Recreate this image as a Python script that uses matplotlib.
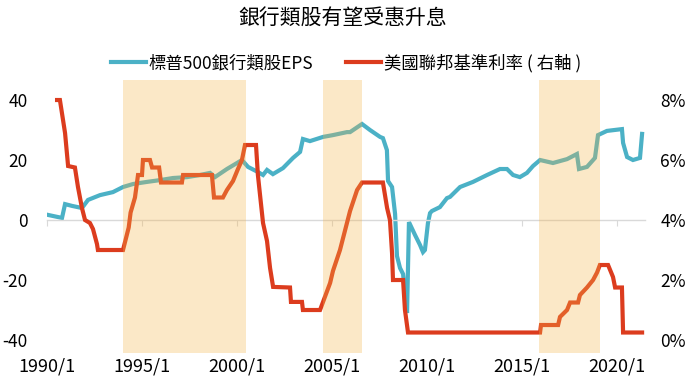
import matplotlib
matplotlib.use("Agg")
import matplotlib.pyplot as plt

plt.rcParams["font.family"] = ["Noto Sans CJK TC", "DejaVu Sans"]

# 標普500銀行類股EPS（左軸）
eps_year = [1990.05, 1990.79, 1990.95, 1991.32, 1991.84, 1992.16, 1992.79, 1993.47, 1994.0, 1994.53,
            1995.26, 1995.95, 1996.63, 1997.37, 1998.05, 1998.58, 1998.84, 1999.47, 2000.0, 2000.26,
            2000.58, 2001.1, 2001.37, 2001.58, 2001.89, 2002.42, 2002.95, 2003.32, 2003.47, 2003.84,
            2004.53, 2005.05, 2005.79, 2005.95, 2006.58, 2007.0, 2007.53, 2007.68, 2007.89, 2007.95,
            2008.16, 2008.32, 2008.42, 2008.58, 2008.74, 2008.84, 2008.95, 2009.05, 2009.37, 2009.63,
            2009.79, 2009.89, 2010.05, 2010.16, 2010.26, 2010.68, 2011.05, 2011.21, 2011.74, 2012.42,
            2013.16, 2013.84, 2014.21, 2014.53, 2014.89, 2015.26, 2015.58, 2015.95, 2016.63, 2017.37,
            2017.89, 2018.0, 2018.42, 2018.84, 2019.0, 2019.47, 2020.26, 2020.32, 2020.53, 2020.84,
            2021.21, 2021.32]
eps_value = [1.7, 0.7, 5.3, 4.7, 4.0, 6.7, 8.3, 9.3, 11.0, 12.0,
             12.7, 13.3, 14.0, 14.3, 15.0, 15.7, 14.3, 17.0, 19.0, 20.0,
             17.7, 16.0, 15.0, 16.7, 15.3, 17.3, 20.7, 22.7, 27.0, 26.3,
             27.7, 28.3, 29.3, 29.3, 32.0, 30.0, 27.7, 27.3, 23.3, 13.0,
             11.0, 2.0, -12.0, -16.0, -18.0, -24.0, -31.0, -0.7, -5.0, -8.3,
             -10.7, -10.0, -1.0, 2.3, 3.0, 4.3, 7.3, 7.7, 11.0, 12.7,
             15.0, 17.0, 17.0, 15.0, 14.3, 15.7, 18.0, 20.0, 19.0, 20.3,
             22.0, 17.0, 17.7, 20.7, 28.3, 29.7, 30.3, 25.7, 21.0, 20.0,
             20.7, 28.7]

# 美國聯邦基準利率（右軸，%）
rate_year = [1990.53, 1990.68, 1990.95, 1991.11, 1991.47, 1991.63, 1991.84, 1992.0, 1992.26, 1992.42,
             1992.63, 1992.68, 1994.0, 1994.1, 1994.2, 1994.3, 1994.4, 1994.63, 1994.79, 1995.0,
             1995.05, 1995.42, 1995.53, 1995.9, 1996.0, 1997.1, 1997.16, 1998.68, 1998.79, 1999.26,
             1999.47, 1999.79, 2000.05, 2000.26, 2000.42, 2001.0, 2001.1, 2001.37, 2001.58, 2001.74,
             2001.9, 2002.79, 2002.84, 2003.42, 2003.47, 2004.37, 2004.9, 2005.05, 2005.42, 2005.95,
             2006.32, 2006.58, 2007.68, 2007.9, 2008.05, 2008.16, 2008.21, 2008.74, 2008.84, 2009.0,
             2015.95, 2016.0, 2016.9, 2017.0, 2017.37, 2017.53, 2017.95, 2018.05, 2018.42, 2018.74,
             2018.95, 2019.1, 2019.53, 2019.79, 2019.9, 2020.26, 2020.32, 2021.32]
rate_value = [8.0, 8.0, 6.9, 5.8, 5.75, 5.1, 4.4, 4.0, 3.9, 3.7,
              3.2, 3.0, 3.0, 3.25, 3.5, 3.75, 4.25, 4.75, 5.5, 5.5,
              6.0, 6.0, 5.75, 5.75, 5.25, 5.25, 5.5, 5.5, 4.75, 4.75,
              5.0, 5.3, 5.7, 6.0, 6.5, 6.5, 5.5, 3.9, 3.3, 2.4,
              1.77, 1.75, 1.27, 1.27, 1.0, 1.0, 1.9, 2.3, 3.0, 4.3,
              5.0, 5.25, 5.25, 4.4, 4.0, 2.9, 2.0, 2.0, 1.0, 0.25,
              0.25, 0.5, 0.5, 0.77, 1.0, 1.25, 1.25, 1.5, 1.75, 2.0,
              2.25, 2.5, 2.5, 2.1, 1.75, 1.75, 0.25, 0.25]

# 升息期間（陰影）
hike_start = [1994.0, 2004.5, 2015.9]
hike_end = [2000.47, 2006.6, 2019.1]

x_ticks = [1990, 1995, 2000, 2005, 2010, 2015, 2020]
x_tick_labels = ["1990/1", "1995/1", "2000/1", "2005/1", "2010/1", "2015/1", "2020/1"]
left_ticks = [40, 20, 0, -20, -40]
left_tick_labels = ["40", "20", "0", "-20", "-40"]
right_ticks = [8, 6, 4, 2, 0]
right_tick_labels = ["8%", "6%", "4%", "2%", "0%"]

teal = "#4BB1C6"
red = "#DC3C1E"

fig = plt.figure(figsize=(6.88, 3.86), dpi=100)
ax = fig.add_axes([47 / 688, 33 / 386, 598 / 688, 273 / 386])
ax2 = ax.twinx()

ax.plot(eps_year, eps_value, color=teal, lw=3, solid_joinstyle="miter", zorder=2)
ax2.plot(rate_year, rate_value, color=red, lw=3, solid_joinstyle="miter", zorder=2)

# 陰影畫在最上層，讓線條顏色略為混色
for s, e in zip(hike_start, hike_end):
    ax2.axvspan(s, e, color="#F5B446", alpha=0.3, lw=0, zorder=3)

ax.set_xlim(1990, 1990 + 598 / 19)
ax.set_ylim(-44.33, 46.67)
ax2.set_ylim(-0.433, 8.667)

for a in (ax, ax2):
    for sp in ["top", "left", "right"]:
        a.spines[sp].set_visible(False)
ax2.spines["bottom"].set_visible(False)

# 0 的橫線與刻度
ax.spines["bottom"].set_position(("data", 0))
ax.spines["bottom"].set_color("#D9D9D9")
ax.spines["bottom"].set_linewidth(1)
ax.set_xticks(x_ticks)
ax.tick_params(axis="x", length=4, color="#D9D9D9", labelbottom=False)

sec = ax.secondary_xaxis("bottom")
sec.set_xticks(x_ticks)
sec.set_xticklabels(x_tick_labels)
sec.spines["bottom"].set_visible(False)
sec.tick_params(axis="x", length=0, pad=3, labelsize=13)

ax.set_yticks(left_ticks)
ax.set_yticklabels(left_tick_labels)
ax.tick_params(axis="y", length=0, pad=14, labelsize=12.5)
ax2.set_yticks(right_ticks)
ax2.set_yticklabels(right_tick_labels)
ax2.tick_params(axis="y", length=0, pad=11, labelsize=12.5)

fig.text(343 / 688, 1 - 18 / 386, "銀行類股有望受惠升息", ha="center", va="center", fontsize=15)

h1, = ax.plot([], [], color=teal, lw=3)
h2, = ax.plot([], [], color=red, lw=3)
fig.legend([h1, h2], ["標普500銀行類股EPS", "美國聯邦基準利率 ( 右軸 )"],
           loc="center", bbox_to_anchor=(346 / 688, 1 - 63 / 386), ncol=2, frameon=False,
           fontsize=12.5, handlelength=2.0, handletextpad=0.15, columnspacing=1.9)

plt.savefig("out.png", dpi=100)
